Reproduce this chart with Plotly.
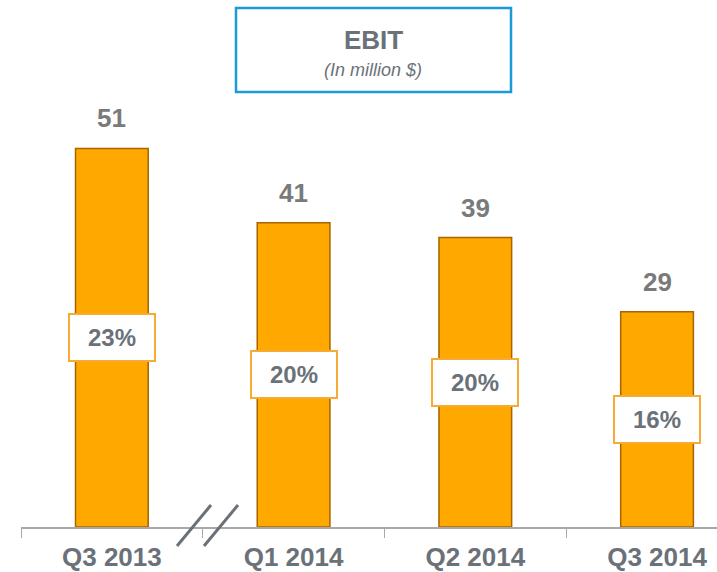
import plotly.graph_objects as go

categories = ["Q3 2013", "Q1 2014", "Q2 2014", "Q3 2014"]
ebit = [51, 41, 39, 29]
margins = ["23%", "20%", "20%", "16%"]

title_text = "EBIT"
subtitle_text = "(In million $)"

GRAY = "#6b7179"
VAL_GRAY = "#7a7a7a"
ORANGE = "#FFA800"
ORANGE_EDGE = "#a86400"
BOX_ORANGE = "#f6ab33"
BLUE = "#1a9ad6"
FONT = "Liberation Sans, Arial, sans-serif"

fig = go.Figure()
fig.add_trace(go.Bar(
    x=categories, y=ebit,
    width=0.4,
    marker=dict(color=ORANGE, line=dict(color=ORANGE_EDGE, width=1.5)),
    hoverinfo="skip",
))

# value labels above bars
for c, v in zip(categories, ebit):
    fig.add_annotation(x=c, y=v, xref="x", yref="y", text=f"<b>{v}</b>",
                       showarrow=False, yshift=30, yanchor="middle",
                       font=dict(family=FONT, size=26, color=VAL_GRAY))

# margin boxes
for c, v, m in zip(categories, ebit, margins):
    fig.add_annotation(x=c, y=v / 2, xref="x", yref="y", text=f"<b>{m}</b>",
                       showarrow=False, yanchor="middle",
                       width=84, height=45, borderpad=0,
                       bgcolor="white", bordercolor=BOX_ORANGE, borderwidth=2,
                       font=dict(family=FONT, size=24, color=GRAY))

# title box
fig.add_shape(type="rect", xref="paper", yref="paper",
              x0=(236 - 21) / 696, x1=(511 - 21) / 696,
              y0=(527 - 92) / 527, y1=(527 - 8) / 527,
              line=dict(color=BLUE, width=2.5), fillcolor="white", layer="above")
fig.add_annotation(xref="paper", yref="paper", x=(373 - 21) / 696, y=(527 - 40) / 527,
                   text=f"<b>{title_text}</b>", showarrow=False, yanchor="middle",
                   font=dict(family=FONT, size=26, color=GRAY))
fig.add_annotation(xref="paper", yref="paper", x=(373 - 21) / 696, y=(527 - 70) / 527,
                   text=f"<i>{subtitle_text}</i>", showarrow=False, yanchor="middle",
                   font=dict(family=FONT, size=18, color=GRAY))

# axis break marks (paper coords, not clipped)
for px0, px1 in [(177, 211), (204, 238)]:
    fig.add_shape(type="line", xref="paper", yref="paper",
                  x0=(px0 - 21) / 696, x1=(px1 - 21) / 696,
                  y0=(527 - 546) / 527, y1=(527 - 505) / 527,
                  line=dict(color=GRAY, width=3), layer="above")

fig.update_layout(
    width=717, height=572,
    margin=dict(l=21, r=0, t=0, b=45, autoexpand=False),
    paper_bgcolor="white", plot_bgcolor="white",
    showlegend=False,
    bargap=0.6,
    xaxis=dict(range=[-0.5, 3.33], showline=True, linecolor="#a8a8a8", linewidth=1.5,
               automargin=False,
               ticks="outside", tickson="boundaries", ticklen=9, tickcolor="#a8a8a8",
               ticklabelstandoff=6,
               tickfont=dict(family=FONT, size=26, color=GRAY),
               tickprefix="<b>", ticksuffix="</b>",
               showgrid=False, zeroline=False),
    yaxis=dict(range=[0, 71], visible=False, showgrid=False, zeroline=False,
               automargin=False),
)

fig.write_html("out.html", config={"displayModeBar": False},
               post_script="document.body.style.margin='0';document.body.style.overflow='hidden';")
